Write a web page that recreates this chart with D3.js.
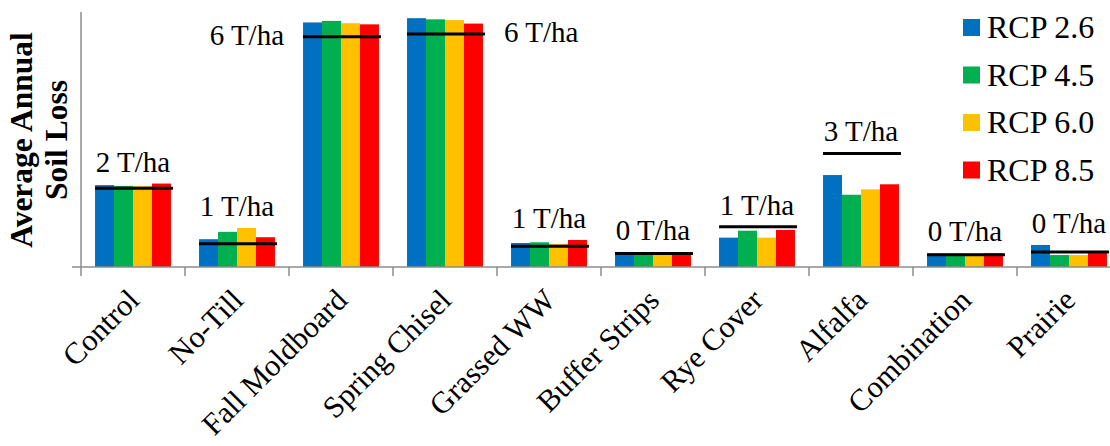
<!DOCTYPE html>
<html>
<head>
<meta charset="utf-8">
<script src="https://cdn.jsdelivr.net/npm/d3@7"></script>
<style>
  html, body { margin: 0; padding: 0; background: #fff; }
  svg { display: block; }
</style>
</head>
<body>
<svg id="chart" width="1110" height="446"></svg>
<script>
// Conservation practices compared
const categories = ["Control", "No-Till", "Fall Moldboard", "Spring Chisel", "Grassed WW",
                    "Buffer Strips", "Rye Cover", "Alfalfa", "Combination", "Prairie"];

// Average annual soil loss (T/ha) per climate scenario
const seriesNames = ["RCP 2.6", "RCP 4.5", "RCP 6.0", "RCP 8.5"];
const rcp26 = [2.12, 0.72, 6.33, 6.44, 0.62, 0.39, 0.76, 2.38, 0.35, 0.57];
const rcp45 = [2.10, 0.91, 6.37, 6.41, 0.64, 0.33, 0.94, 1.87, 0.35, 0.31];
const rcp60 = [2.10, 1.01, 6.31, 6.39, 0.60, 0.33, 0.76, 2.01, 0.35, 0.31];
const rcp85 = [2.16, 0.77, 6.28, 6.30, 0.70, 0.33, 0.96, 2.14, 0.35, 0.36];

// Historical reference soil loss (T/ha), drawn as a black bar across each group
const historical = [2.04, 0.60, 5.96, 6.03, 0.54, 0.35, 1.04, 2.94, 0.32, 0.39];

// Which side the reference label sits on ("top" = above the group)
const labelSide = ["top", "top", "left", "right", "top", "top", "top", "top", "top", "top"];

const colors = ["#0070C0", "#00B050", "#FFC000", "#FF0000"];
const seriesValues = [rcp26, rcp45, rcp60, rcp85];
const FONT = "'Liberation Serif'";

const svg = d3.select("#chart");

const x0 = 81, x1 = 1121, yBase = 267, yTop = 12;

const x = d3.scaleBand().domain(categories).range([x0, x1]).paddingInner(0.27).paddingOuter(0.135);
const xSub = d3.scaleBand().domain(seriesNames).range([0, x.bandwidth()]).padding(0);
const y = d3.scaleLinear().domain([0, 6.6]).range([yBase, yTop]);
const color = d3.scaleOrdinal().domain(seriesNames).range(colors);

const rows = categories.map((c, i) => ({
  cat: c,
  ref: historical[i],
  side: labelSide[i],
  values: seriesNames.map((s, j) => ({ key: s, value: seriesValues[j][i] }))
}));

// Bars
const groups = svg.append("g").selectAll("g")
  .data(rows).join("g")
  .attr("transform", d => `translate(${x(d.cat)},0)`);

groups.selectAll("rect")
  .data(d => d.values).join("rect")
  .attr("x", d => xSub(d.key))
  .attr("width", xSub.bandwidth())
  .attr("y", d => y(d.value))
  .attr("height", d => y(0) - y(d.value))
  .attr("fill", d => color(d.key));

// Axes
const tickPositions = d3.range(categories.length + 1).map(i => x0 + i * (x1 - x0) / categories.length);

const axisG = svg.append("g").attr("stroke", "#8c8c8c").attr("stroke-width", 1.5);
axisG.append("line").attr("x1", x0).attr("x2", x0).attr("y1", yTop).attr("y2", yBase);
axisG.append("line").attr("x1", x0 - 9).attr("x2", x1).attr("y1", yBase).attr("y2", yBase);
axisG.selectAll("line.tick").data(tickPositions).join("line")
  .attr("class", "tick")
  .attr("x1", d => d).attr("x2", d => d)
  .attr("y1", yBase).attr("y2", yBase + 9);

// Historical reference bars
groups.append("line")
  .attr("x1", 0).attr("x2", x.bandwidth() + 2)
  .attr("y1", d => y(d.ref)).attr("y2", d => y(d.ref))
  .attr("stroke", "#000").attr("stroke-width", 3);

// Reference labels
const fmt = v => `${Math.round(v)} T/ha`;
groups.append("text")
  .attr("font-family", FONT)
  .attr("font-size", 29)
  .attr("fill", "#000")
  .attr("text-anchor", d => d.side === "left" ? "end" : d.side === "right" ? "start" : "middle")
  .attr("x", d => d.side === "left" ? -19 : d.side === "right" ? x.bandwidth() + 21 : x.bandwidth() / 2)
  .attr("y", d => {
    if (d.side !== "top") return y(d.ref) + 8;
    const top = Math.max(d.ref, d3.max(d.values, v => v.value));
    return y(top) - 12;
  })
  .text(d => fmt(d.ref));

// Category labels
svg.append("g").selectAll("text")
  .data(categories).join("text")
  .attr("font-family", FONT)
  .attr("font-size", 30.5)
  .attr("text-anchor", "end")
  .attr("transform", d => `translate(${x(d) + x.bandwidth() / 2 + 8},${yBase + 35}) rotate(-45)`)
  .text(d => d);

// Y axis title
const title = svg.append("text")
  .attr("font-family", FONT)
  .attr("font-size", 31.5)
  .attr("font-weight", "bold")
  .attr("text-anchor", "middle")
  .attr("transform", "translate(0,140) rotate(-90)");
title.append("tspan").attr("x", 0).attr("y", 32).text("Average Annual");
title.append("tspan").attr("x", 0).attr("y", 67).text("Soil Loss");

// Legend
const legend = svg.append("g").attr("transform", "translate(963,19)");
const li = legend.selectAll("g").data(seriesNames).join("g")
  .attr("transform", (d, i) => `translate(0,${i * 47.5})`);
li.append("rect").attr("width", 17).attr("height", 17).attr("fill", d => color(d));
li.append("text").attr("font-family", FONT).attr("x", 24).attr("y", 19).attr("font-size", 32).text(d => d);
</script>
</body>
</html>
